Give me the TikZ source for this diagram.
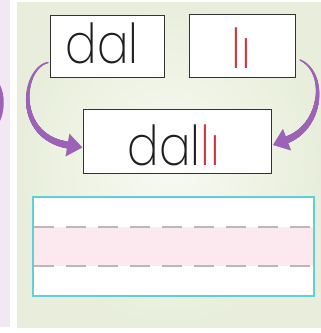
\documentclass[tikz,border=0pt]{standalone}
\usepackage{fontspec}
\IfFontExistsTF{Poppins ExtraLight}{\setmainfont{Poppins}[UprightFont=* ExtraLight]}{\setmainfont{Poppins}[UprightFont=* Light]}
\usetikzlibrary{arrows.meta,decorations.markings}
\definecolor{bggreen}{HTML}{E8EEDB}
\definecolor{bglight}{HTML}{F8FAF2}
\definecolor{lav}{HTML}{F2E8F3}
\definecolor{arr}{HTML}{9C62B8}
\definecolor{word}{HTML}{1E1E1E}
\definecolor{redl}{HTML}{D2343F}
\definecolor{cyanb}{HTML}{5FCFD8}
\definecolor{pinkb}{HTML}{FCE9EF}
\definecolor{dashg}{HTML}{BDB6B8}
\tikzset{
  wordbox/.style={draw=black!80, line width=1.1pt, fill=white, inner sep=0pt, anchor=north west},
  arrowhead/.style={draw=arr, fill=arr, line width=0.5pt, -{Triangle[length=15pt,width=23pt]}},
  taper/.style={postaction={decorate}, decoration={markings,
    mark=between positions 0 and 1 step 0.3pt with {%
      \pgfmathsetmacro\rr{0.7+2.8*\pgfkeysvalueof{/pgf/decoration/mark info/distance from start}/\pgfdecoratedpathlength}%
      \fill[arr] (0,0) circle (\rr pt);}}},
  wordtext/.style={font=\fontsize{55}{55}\selectfont, text=word, anchor=base, inner sep=0pt},
  dashline/.style={dashg, line width=1.1pt, dash pattern=on 20pt off 12pt}
}
\begin{document}
\begin{tikzpicture}[x=1pt,y=-1pt]
\useasboundingbox (0,0) rectangle (321,333);
\fill[white] (0,0) rectangle (321,333);
% left lavender strip
\fill[lav] (0,0) rectangle (10,327);
\fill[arr] (0,85) .. controls (5,95) and (5,110) .. (0,121) -- cycle;
% green panel
\shade[inner color=bglight, outer color=bggreen] (17,2) rectangle (321,327);
% word boxes
\node[wordbox, minimum width=114pt, minimum height=62pt] (dal) at (50,15) {};
\node[wordtext] (tdal) at (102,63) {\scalebox{0.85}[1]{dal}};
\node[wordbox, minimum width=106pt, minimum height=63pt] (li) at (189,14) {};
\node[wordtext, text=redl] (tli) at (241,68) {\scalebox{0.85}[1]{lı}};
\node[wordbox, minimum width=188pt, minimum height=64pt] (dalli) at (83,109) {};
\node[wordtext] (tdalli) at (174,165) {\scalebox{0.85}[1]{dal\textcolor{redl}{lı}}};
% arrows
\coordinate (ls) at ([xshift=-2pt,yshift=-16pt]dal.west);
\coordinate (lb) at (67.5,145);
\coordinate (lt) at (82.3,147.5);
\coordinate (rs) at ([xshift=4pt,yshift=-14pt]li.east);
\coordinate (rb) at (287,139.7);
\coordinate (rt) at (273,145);
\path[taper] (ls) .. controls (22,68) and (14,136) .. (lb);
\draw[arrowhead] (lb) -- (lt);
\path[taper] (rs) .. controls (327,72) and (323,126) .. (rb);
\draw[arrowhead] (rb) -- (rt);
% lined writing box
\fill[white] (33,197) rectangle (314,296);
\fill[pinkb] (33,227) rectangle (314,266);
\draw[dashline] (34,227) -- (314,227);
\draw[dashline] (34,266) -- (314,266);
\draw[cyanb, line width=1.5pt] (33,197) rectangle (314,296);
\end{tikzpicture}
\end{document}
